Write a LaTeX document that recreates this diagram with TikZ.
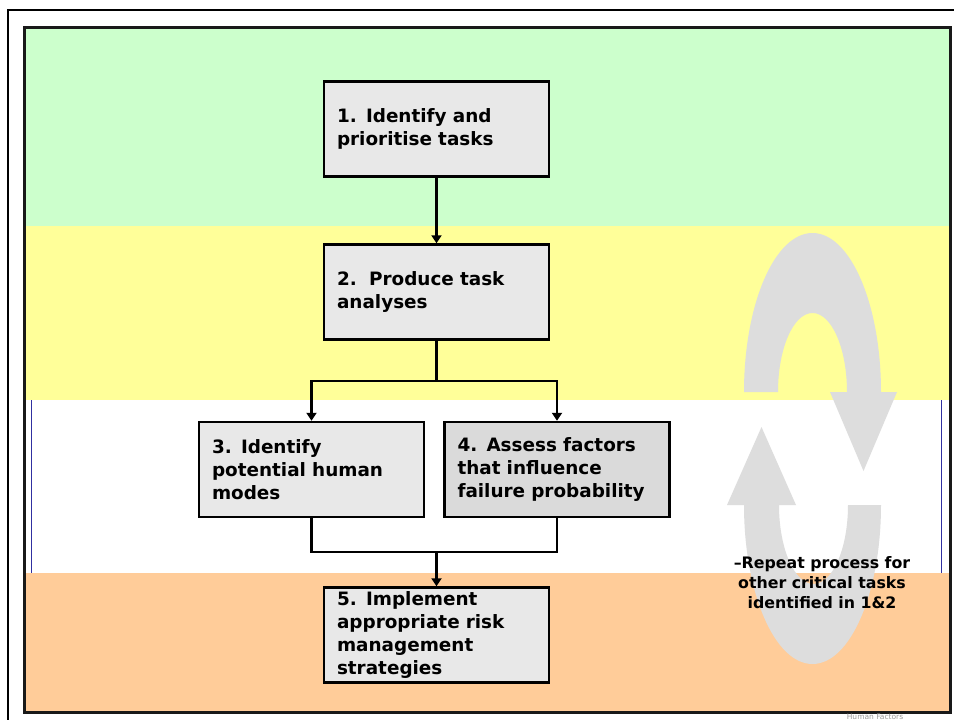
\documentclass[tikz,border=0pt]{standalone}
\usepackage{fontspec}
\setmainfont{DejaVu Sans}
\usetikzlibrary{arrows.meta}
\definecolor{bandgreen}{HTML}{CCFFCC}
\definecolor{bandyellow}{HTML}{FFFF99}
\definecolor{bandorange}{HTML}{FFCC99}
\definecolor{loopgray}{HTML}{DDDDDD}
\definecolor{boxfill}{HTML}{E8E8E8}
\definecolor{boxfilldark}{HTML}{DADADA}
\definecolor{edgeblue}{HTML}{3030A0}
\tikzset{
  taskbox/.style={draw=black, line width=2.4pt, fill=boxfill,
    minimum width=225pt, minimum height=95pt, text width=199pt,
    inner xsep=13pt, inner ysep=0pt, align=left,
    font=\bfseries\fontsize{18.4}{23}\selectfont},
  link/.style={draw=black, line width=2.4pt},
  linkarrow/.style={link, -{Triangle[length=8pt,width=10pt]}},
}
\begin{document}
\begin{tikzpicture}[x=1pt,y=-1pt]
\useasboundingbox (0,0) rectangle (954,720);
\fill[white] (0,0) rectangle (954,720);
% bands
\fill[bandgreen]  (24.5,27) rectangle (950,226);
\fill[bandyellow] (24.5,226) rectangle (950,400);
\fill[white]      (24.5,400) rectangle (950,573);
\fill[bandorange] (24.5,573) rectangle (950,712.5);
% thin blue edges of white band
\draw[edgeblue, line width=1pt] (31,400) -- (31,573);
\draw[edgeblue, line width=1pt] (941,400) -- (941,573);
% grey loop arrows
\fill[loopgray] (744,392) arc[start angle=180, end angle=360, x radius=68.5, y radius=159]
  -- (897,392) -- (863.5,471) -- (830,392) -- (847,392)
  arc[start angle=360, end angle=180, x radius=34.5, y radius=79] -- cycle;
\fill[loopgray] (881,505) arc[start angle=0, end angle=180, x radius=68.5, y radius=159]
  -- (727,505) -- (761.5,427) -- (796,505) -- (779,505)
  arc[start angle=180, end angle=0, x radius=34.5, y radius=79] -- cycle;
% frames
\draw[line width=2pt, black] (8,10) rectangle (970,740);
\draw[line width=3pt, black!90] (24.5,27) rectangle (950,712.5);
% footer text
\node[anchor=base, inner sep=0pt, text=black!40, font=\fontsize{7.5}{9}\selectfont] (hf) at (875,719.6) {Human Factors};
% boxes
\node[taskbox] (b1) at (436.5,129) {1. Identify and\\prioritise tasks};
\node[taskbox] (b2) at (436.5,292) {2.\ \ Produce task\\analyses};
\node[taskbox] (b3) at (311.5,469.5) {3. Identify\\potential human\\modes};
\node[taskbox, fill=boxfilldark] (b4) at (557,469.5) {4. Assess factors\\that influence\\failure probability};
\node[taskbox] (b5) at (436.5,635) {5. Implement\\appropriate risk\\management\\strategies};
% connectors
\draw[linkarrow] (b1.south) -- (b2.north);
\coordinate (split) at (436.5,381);
\draw[link] (b2.south) -- (split);
\draw[linkarrow] (split) -| (b3.north);
\draw[linkarrow] (split) -| (b4.north);
\coordinate (join) at (436.5,552);
\draw[link] (b3.south) |- (join) -| (b4.south);
\draw[linkarrow] (join) -- (b5.north);
% side note
\node[align=center, inner sep=0pt, font=\bfseries\fontsize{15.8}{20}\selectfont] (note) at (822,583)
  {–Repeat process for\\other critical tasks\\identified in 1\&2};
\end{tikzpicture}
\end{document}
